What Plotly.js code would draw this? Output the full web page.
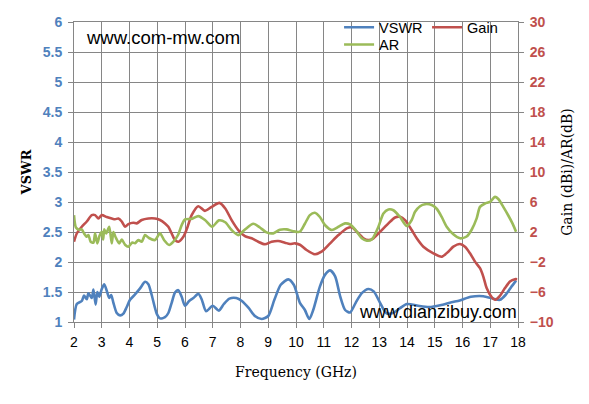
<!DOCTYPE html>
<html>
<head>
<meta charset="utf-8">
<script src="https://cdn.plot.ly/plotly-3.0.1.min.js"></script>
<style>html,body{margin:0;padding:0;background:#fff;}#chart{width:589px;height:404px;}</style>
</head>
<body>
<div id="chart"></div>
<script>
// Frequency (GHz) and VSWR
var vswrFreq = [2.00,2.10,2.28,2.36,2.46,2.52,2.64,2.70,2.78,2.84,
  2.91,3.00,3.09,3.18,3.27,3.34,3.42,3.54,3.66,3.78,
  3.90,4.02,4.20,4.38,4.56,4.68,4.80,4.98,5.10,5.28,
  5.40,5.52,5.64,5.76,5.88,6.00,6.15,6.30,6.48,6.60,
  6.76,7.00,7.22,7.40,7.60,7.85,8.05,8.30,8.52,8.76,
  9.00,9.22,9.45,9.72,9.92,10.14,10.32,10.48,10.62,10.86,
  11.05,11.23,11.41,11.59,11.77,11.95,12.15,12.37,12.61,12.80,
  13.03,13.25,13.50,13.75,14.00,14.40,14.80,15.20,15.60,15.90,
  16.30,16.75,17.10,17.35,17.55,17.75,17.93];
var vswrValues = [1.04,1.30,1.35,1.44,1.38,1.48,1.40,1.54,1.29,1.50,
  1.42,1.55,1.63,1.52,1.40,1.45,1.32,1.15,1.11,1.14,
  1.25,1.37,1.46,1.56,1.67,1.63,1.45,1.14,1.06,1.08,
  1.15,1.32,1.49,1.53,1.42,1.27,1.35,1.40,1.47,1.38,
  1.18,1.27,1.19,1.30,1.39,1.40,1.35,1.23,1.10,1.05,
  1.10,1.37,1.62,1.71,1.62,1.32,1.20,1.05,1.20,1.59,
  1.79,1.86,1.76,1.43,1.20,1.16,1.32,1.48,1.55,1.51,
  1.32,1.15,1.15,1.23,1.30,1.27,1.25,1.28,1.33,1.36,
  1.42,1.43,1.39,1.37,1.45,1.58,1.69];

// Gain (dBi)
var gainFreq = [2.00,2.10,2.28,2.46,2.64,2.76,2.88,3.00,3.18,3.36,
  3.48,3.60,3.72,3.84,3.96,4.14,4.26,4.44,4.68,4.92,
  5.10,5.28,5.40,5.52,5.64,5.76,5.94,6.06,6.24,6.48,
  6.72,6.96,7.24,7.45,7.68,7.92,8.16,8.40,8.64,8.88,
  9.12,9.36,9.60,9.78,9.96,10.14,10.38,10.68,10.92,11.23,
  11.53,11.83,12.01,12.19,12.43,12.61,12.79,13.09,13.33,13.57,
  13.75,13.93,14.17,14.35,14.59,14.95,15.25,15.49,15.67,15.91,
  16.09,16.27,16.45,16.63,16.75,16.87,17.05,17.17,17.33,17.53,
  17.71,17.89,17.97];
var gainValues = [0.7,1.8,2.7,3.4,4.25,4.25,3.8,4.25,4.0,3.8,
  3.7,3.8,3.4,2.7,3.06,3.23,3.15,3.6,3.8,3.8,
  3.6,3.15,2.7,1.8,0.93,0.7,1.37,2.35,4.25,5.44,
  4.82,5.35,5.88,5.14,3.59,2.26,1.46,1.16,0.7,0.36,
  0.7,0.8,0.58,0.4,0.49,0.3,-0.4,-0.97,-0.62,0.49,
  1.59,2.48,2.62,2.04,1.16,0.93,1.16,2.26,3.15,3.94,
  4.02,3.59,2.26,1.16,0.04,-0.84,-1.29,-0.62,0.04,0.40,
  0.04,-0.84,-1.95,-2.83,-3.94,-5.48,-6.68,-7.04,-6.6,-5.48,
  -4.61,-4.29,-4.29];

// AR (dB)
var arFreq = [2.00,2.07,2.18,2.28,2.36,2.46,2.52,2.60,2.70,2.76,
  2.84,2.92,3.00,3.05,3.09,3.16,3.27,3.36,3.42,3.50,
  3.63,3.72,3.84,3.96,4.10,4.20,4.32,4.44,4.56,4.70,
  4.92,5.10,5.25,5.43,5.60,5.75,5.88,6.00,6.24,6.48,
  6.72,6.98,7.22,7.45,7.68,7.92,8.15,8.46,8.70,8.94,
  9.18,9.42,9.66,9.90,10.14,10.32,10.50,10.68,10.86,11.05,
  11.29,11.53,11.77,11.95,12.15,12.37,12.55,12.73,12.97,13.15,
  13.33,13.51,13.75,13.99,14.17,14.29,14.47,14.65,14.89,15.07,
  15.25,15.43,15.67,15.91,16.15,16.33,16.51,16.63,16.81,16.99,
  17.17,17.29,17.47,17.65,17.80,17.93];
var arValues = [4.25,2.6,2.3,2.35,1.82,1.37,1.6,0.7,0.58,1.82,
  0.49,1.5,2.04,1.0,2.35,1.8,2.7,0.49,2.0,1.3,
  0.49,1.0,0.3,0.04,0.6,0.5,0.93,0.7,1.59,1.2,
  0.93,1.82,0.9,0.27,0.8,1.6,2.92,3.68,3.75,4.12,
  3.6,2.7,3.55,3.3,2.26,1.59,2.3,3.1,2.6,1.95,
  1.82,2.3,2.35,2.1,2.04,3.1,4.25,4.56,4.0,2.9,
  2.26,2.7,3.15,3.0,2.26,1.16,0.84,1.0,2.7,4.47,
  5.0,4.9,4.0,2.8,3.6,4.7,5.44,5.71,5.6,5.1,
  4.02,2.7,1.69,1.16,1.4,2.3,3.81,5.35,5.8,6.02,
  6.68,6.4,5.35,4.2,3.15,2.04];

var seriesNames = ['VSWR', 'Gain', 'AR'];
var seriesColors = ['#4F81BD', '#C0504D', '#9BBB59'];
var titleX = 'Frequency (GHz)';
var titleY1 = 'VSWR';
var titleY2 = 'Gain (dBi)/AR(dB)';
var watermark1 = 'www.com-mw.com';
var watermark2 = 'www.dianzibuy.com';

var grid = '#868686';
var titleFont = {family: 'DejaVu Serif, Liberation Serif, serif', size: 14, color: '#000'};

var traces = [
  {x: vswrFreq, y: vswrValues, name: seriesNames[0], type: 'scatter', mode: 'lines',
   line: {color: seriesColors[0], width: 2.6, shape: 'spline', smoothing: 0.7}, yaxis: 'y', legend: 'legend'},
  {x: gainFreq, y: gainValues, name: seriesNames[1], type: 'scatter', mode: 'lines',
   line: {color: seriesColors[1], width: 2.6, shape: 'spline', smoothing: 0.7}, yaxis: 'y2', legend: 'legend'},
  {x: arFreq, y: arValues, name: seriesNames[2], type: 'scatter', mode: 'lines',
   line: {color: seriesColors[2], width: 2.6, shape: 'spline', smoothing: 0.7}, yaxis: 'y2', legend: 'legend2'}
];

var layout = {
  width: 589, height: 404,
  margin: {l: 74, r: 71, t: 21, b: 82},
  paper_bgcolor: '#fff', plot_bgcolor: '#fff',
  showlegend: true,
  xaxis: {
    range: [2, 18], tick0: 2, dtick: 1, showgrid: true, gridcolor: grid, gridwidth: 1,
    showline: true, linecolor: grid, linewidth: 1, mirror: true, zeroline: false,
    ticks: 'outside', ticklen: 5, tickcolor: grid, ticklabelstandoff: 2,
    tickfont: {family: 'Liberation Sans, Arial, sans-serif', size: 14, color: '#000'},
    title: {text: titleX, font: titleFont, standoff: 18}
  },
  yaxis: {
    range: [1, 6], tick0: 1, dtick: 0.5, showgrid: true, gridcolor: grid, gridwidth: 1,
    showline: true, linecolor: grid, linewidth: 1, zeroline: false,
    ticks: 'outside', ticklen: 5, tickcolor: grid, ticklabelstandoff: 3,
    tickfont: {family: 'Liberation Sans, Arial, sans-serif', size: 14, color: '#4F81BD', weight: 'bold'},
    title: {text: titleY1, font: {family: titleFont.family, size: 13, color: '#000', weight: 'bold'}, standoff: 8}
  },
  yaxis2: {
    range: [-10, 30], tick0: -10, dtick: 4, overlaying: 'y', side: 'right',
    showgrid: false, showline: true, linecolor: grid, linewidth: 1, zeroline: false,
    ticks: 'outside', ticklen: 5, tickcolor: grid, ticklabelstandoff: 3,
    tickfont: {family: 'Liberation Sans, Arial, sans-serif', size: 14, color: '#C0504D', weight: 'bold'},
    title: {text: titleY2, font: titleFont, standoff: 9}
  },
  legend: {
    orientation: 'h', x: 0.597, xanchor: 'left', y: 1.032, yanchor: 'top',
    bgcolor: 'rgba(0,0,0,0)', entrywidth: 43, entrywidthmode: 'pixels',
    font: {family: 'Liberation Sans, Arial, sans-serif', size: 14.5, color: '#000'},
    itemwidth: 30
  },
  legend2: {
    orientation: 'h', x: 0.597, xanchor: 'left', y: 0.975, yanchor: 'top',
    bgcolor: 'rgba(0,0,0,0)',
    font: {family: 'Liberation Sans, Arial, sans-serif', size: 14.5, color: '#000'},
    itemwidth: 30
  },
  annotations: [
    {text: watermark1, xref: 'paper', yref: 'paper', x: (84 - 74) / 444, y: (322 - 37) / 301,
     xanchor: 'left', yanchor: 'middle', showarrow: false,
     font: {family: 'Liberation Sans, Arial, sans-serif', size: 18.5, color: '#000'}},
    {text: watermark2, xref: 'paper', yref: 'paper', x: (519 - 74) / 444, y: (322 - 312) / 301,
     xanchor: 'right', yanchor: 'middle', showarrow: false,
     font: {family: 'Liberation Sans, Arial, sans-serif', size: 18, color: '#000'}}
  ]
};

Plotly.newPlot('chart', traces, layout, {staticPlot: true, displayModeBar: false});
</script>
</body>
</html>
